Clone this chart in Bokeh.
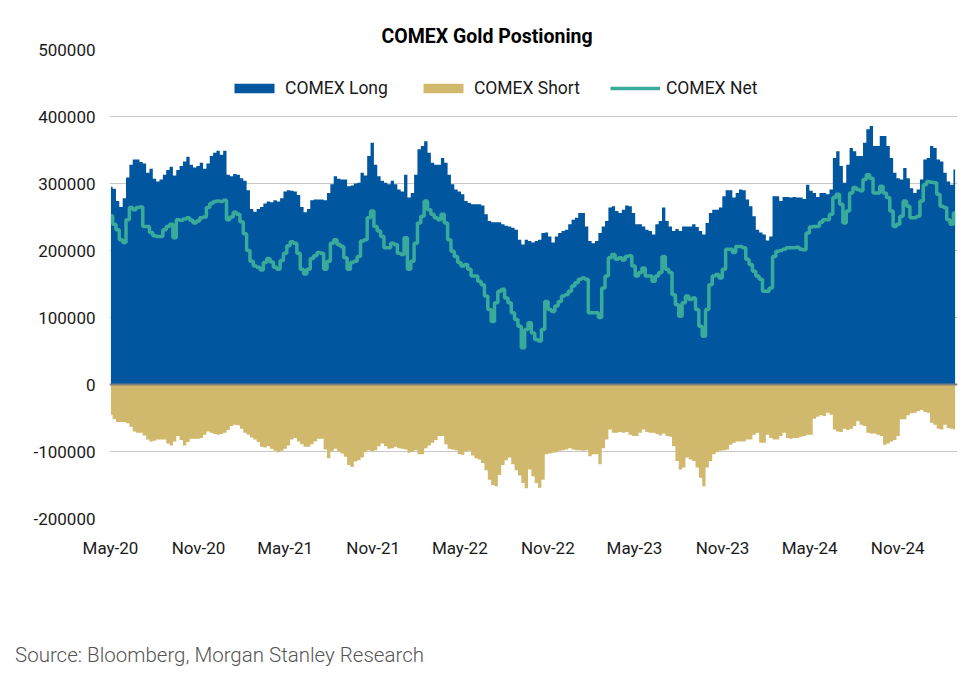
import pandas as pd
from bokeh.plotting import figure
from bokeh.layouts import column
from bokeh.models import FixedTicker, Span, Title, Legend, LegendItem, ColumnDataSource, Range1d, Div
from bokeh.embed import file_html
from bokeh.resources import INLINE

# Weekly COMEX gold positioning (thousands of contracts)
long_k = [
    295, 292, 274, 265, 278, 309, 328, 336, 336, 332, 330, 316, 322, 307, 303, 306, 313, 320, 325, 312,
    320, 326, 333, 340, 328, 324, 326, 331, 322, 330, 341, 346, 349, 343, 349, 313, 311, 314, 313, 308,
    304, 290, 262, 258, 262, 265, 270, 273, 272, 275, 273, 278, 288, 290, 289, 288, 283, 265, 257, 262,
    275, 276, 276,
    276, 275, 286, 299, 311, 307, 306, 306, 296, 297, 300, 301, 316, 312, 341, 361, 328, 311, 304, 301,
    299, 304, 299, 291, 288, 313, 279, 286, 313, 351, 356, 363, 346, 331, 328, 328, 338, 331, 313, 299,
    291, 288, 284, 274, 271, 269, 269, 269, 267, 254, 244, 242, 242, 242, 239, 237, 236, 234, 231, 216,
    209, 216,
    214, 212, 214, 216, 226, 227, 221, 212, 221, 226, 229, 231, 239, 246, 249, 256, 256, 236, 214, 211,
    214, 226, 236, 244, 264, 266, 259, 256, 261, 267, 266, 256, 239, 239, 236, 231, 229, 224, 239, 244,
    264, 244, 236, 229, 232, 229, 236, 236, 236, 239, 235, 229, 224, 241, 256, 261, 261, 264, 281, 290,
    290, 279, 286,
    291, 290, 276, 266, 251, 231, 227, 224, 215, 221, 281, 281, 274, 280, 280, 279, 280, 279, 279, 277,
    298, 289, 286, 280, 286, 286, 284, 291, 338, 348, 326, 301, 328, 353, 348, 341, 341, 361, 381, 386,
    356, 356, 371, 371, 356, 338, 316, 308, 306, 323, 308, 293, 286, 291, 306, 336, 338, 356, 353, 336,
    333, 316, 303, 298, 321,
]
short_k = [
    45, 52, 56, 56, 56, 58, 63, 70, 72, 72, 76, 82, 85, 84, 82, 82, 82, 88, 91, 85,
    77, 83, 91, 86, 81, 81, 81, 80, 75, 70, 72, 74, 75, 74, 72, 68, 62, 60, 61, 66,
    72, 75, 79, 82, 86, 93, 94, 92, 96, 99, 101, 99, 96, 91, 82, 80, 85, 89, 93, 93,
    89, 85, 81, 81, 97, 110, 100, 96, 100, 103, 108, 120, 123, 115, 113, 109, 101, 98, 100, 98,
    92, 88, 92, 96, 95, 93, 95, 96, 97, 102, 100, 98, 104, 104, 95, 91, 87, 83, 77, 77,
    89, 96, 97, 98, 104, 105, 100, 99, 106, 110, 112, 117, 128, 142, 150, 152, 135, 120, 113, 109,
    119, 128, 136, 147, 155,
    127, 137, 147, 154, 142, 104, 103, 102, 101, 99, 98, 97, 95, 97, 98, 98, 99, 98, 107, 104,
    104, 119, 95, 82, 67, 72, 72, 71, 72, 71, 75, 77, 77, 72, 67, 71, 72, 72, 74, 76,
    73, 77, 78, 92, 114, 127, 124, 109, 112, 114, 124, 139, 152, 124, 114, 104, 101, 99, 98, 97,
    90, 87, 85, 85, 85, 82, 82, 75, 72, 87, 87, 75, 80, 82, 82, 77, 72, 80, 81, 80,
    80, 78, 77, 75, 75, 51, 48, 46, 47, 42, 45, 67, 70, 71, 66, 68, 66, 62, 55, 60,
    62, 72, 73, 73, 75, 77, 90, 88, 85, 83, 77, 52, 52, 46, 43, 42, 40, 38, 41, 42,
    57, 60, 66, 67, 60, 65, 66, 67,
]
net_k = [
    252, 239, 231, 216, 212, 246, 264, 261, 264, 265, 236, 236, 227, 222, 221, 221, 231, 236, 239, 219,
    246, 245, 247, 249, 245, 241, 244, 249, 250, 264, 270, 273, 274, 273, 275, 246, 250, 257, 254, 243,
    225, 200, 184, 177, 175, 171, 182, 188, 183, 175, 172, 185, 196, 207, 213, 211, 196, 172, 165, 172,
    188, 192, 197,
    196, 172, 184, 211, 216, 209, 206, 189, 172, 182, 184, 191, 214, 216, 249, 259, 236, 229, 221, 204,
    204, 211, 209, 196, 194, 219, 172, 184, 211, 241, 251, 274, 261, 254, 249, 246, 254, 241, 216, 199,
    191, 182, 177, 179, 172, 162, 162, 154, 149, 132, 112, 94, 122, 139, 142, 129, 122, 107, 97, 87,
    55, 82,
    92, 77, 67, 65, 82, 124, 112, 109, 117, 124, 132, 134, 139, 147, 152, 157, 159, 157, 107, 107,
    107, 100, 144, 162, 189, 194, 187, 189, 186, 191, 192, 177, 162, 167, 174, 162, 162, 154, 162, 167,
    191, 172, 167, 134, 119, 102, 122, 132, 127, 129, 112, 87, 72, 112, 149, 162, 164, 159, 172, 202,
    202, 197, 206,
    206, 204, 187, 179, 169, 162, 157, 139, 139, 144, 191, 199, 200, 202, 204, 204, 204, 205, 202, 201,
    226, 235, 236, 236, 242, 246, 246, 254, 279, 284, 269, 241, 259, 286, 294, 291, 289, 306, 313, 308,
    286, 286, 296, 286, 279, 259, 236, 239, 251, 274, 266, 249, 249, 251, 274, 298, 303, 302, 301, 284,
    266, 264, 246, 239, 256,
]

x_tick_dates = ["2020-05-01", "2020-11-01", "2021-05-01", "2021-11-01", "2022-05-01",
                "2022-11-01", "2023-05-01", "2023-11-01", "2024-05-01", "2024-11-01"]
x_tick_labels = ["May-20", "Nov-20", "May-21", "Nov-21", "May-22",
                 "Nov-22", "May-23", "Nov-23", "May-24", "Nov-24"]
y_ticks = [-200000, -100000, 0, 100000, 200000, 300000, 400000, 500000]
y_tick_labels = ["-200000", "-100000", "0", "100000", "200000", "300000", "400000", "500000"]

n = len(long_k)
start = pd.Timestamp("2020-05-02")
dates = [start + pd.Timedelta(weeks=i) for i in range(n)]

src = ColumnDataSource(dict(
    x=dates,
    long=[v * 1000 for v in long_k],
    short=[-v * 1000 for v in short_k[:n]],
    net=[v * 1000 for v in net_k[:n]],
))

BLUE = "#00569F"
GOLD = "#D0B96C"
TEAL = "#3AAA9B"
FONT = "Roboto"

p = figure(width=964, height=640, x_axis_type="datetime", output_backend="svg",
           toolbar_location=None, title=None,
           x_range=Range1d(pd.Timestamp("2020-04-29"), pd.Timestamp("2025-03-06")),
           y_range=Range1d(-200000, 500000),
           min_border_left=109, min_border_right=7, min_border_top=49, min_border_bottom=122)
p.outline_line_color = None
p.background_fill_color = "white"

r_long = p.varea_step(x="x", y1=0, y2="long", step_mode="center", source=src, fill_color=BLUE)
r_short = p.varea_step(x="x", y1=0, y2="short", step_mode="center", source=src, fill_color=GOLD)
p.add_layout(Span(location=0, dimension="width", line_color="#808080", line_width=1.8))
r_net = p.step(x="x", y="net", mode="center", source=src, line_color=TEAL, line_width=3.5)

# axes
p.xaxis.ticker = FixedTicker(ticks=[pd.Timestamp(d).value // 10**6 for d in x_tick_dates])
p.xaxis.major_label_overrides = {pd.Timestamp(d).value // 10**6: lab for d, lab in zip(x_tick_dates, x_tick_labels)}
p.yaxis.ticker = FixedTicker(ticks=y_ticks)
p.yaxis.major_label_overrides = {t: lab for t, lab in zip(y_ticks, y_tick_labels)}
for ax in (p.xaxis, p.yaxis):
    ax.axis_line_color = None
    ax.major_tick_line_color = None
    ax.minor_tick_line_color = None
    ax.major_label_text_font = FONT
    ax.major_label_text_font_size = "17px"
    ax.major_label_text_color = "#1a1a1a"
p.yaxis.major_label_standoff = 8
p.xaxis.major_label_standoff = 13
p.xgrid.grid_line_color = None
p.ygrid.grid_line_color = "#C8C8C8"
p.ygrid.grid_line_width = 1.2

legend = Legend(items=[LegendItem(label="COMEX Long", renderers=[r_long]),
                       LegendItem(label="COMEX Short", renderers=[r_short]),
                       LegendItem(label="COMEX Net", renderers=[r_net])],
                orientation="horizontal", location=(120, 420),
                glyph_width=50, glyph_height=12, label_standoff=6, spacing=30,
                padding=0, margin=0, border_line_alpha=0, background_fill_alpha=0,
                label_text_font=FONT, label_text_font_size="17.5px", label_text_color="#1a1a1a",
                label_height=20)
p.add_layout(legend)

p.add_layout(Title(text="COMEX Gold Postioning", align="left", offset=272,
                   text_font=FONT, text_font_size="19.5px", text_font_style="bold",
                   text_color="black", standoff=3), "above")

source_div = Div(text="Source: Bloomberg, Morgan Stanley Research", width=964, height=30,
                 styles={"font-family": "Roboto", "font-weight": "300", "font-size": "20.5px",
                         "color": "#555555", "padding-left": "10px", "padding-top": "0px",
                         "line-height": "20px", "white-space": "nowrap"})

layout = column(p, source_div, spacing=0)
open("out.html", "w").write(file_html(layout, INLINE))
